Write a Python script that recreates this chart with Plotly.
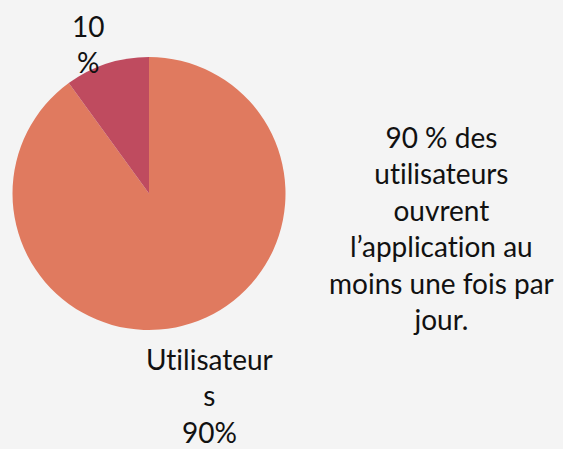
import plotly.graph_objects as go

labels = ["Utilisateurs", "Autres"]
values = [90, 10]
colors = ["#E07A5F", "#BF4B5F"]
note_lines = ["90 % des", "utilisateurs", "ouvrent", "l’application au", "moins une fois par", "jour."]

W, H = 563, 449
FONT = "Lato"
ZWNJ = "\u200c"

def noliga(s):
    # avoid the "ti" / "fi" ligatures of the font
    return s.replace("ti", "t" + ZWNJ + "i").replace("fi", "f" + ZWNJ + "i")

fig = go.Figure(go.Pie(
    labels=labels,
    values=values,
    sort=False,
    direction="clockwise",
    rotation=0,
    marker=dict(colors=colors, line=dict(width=0)),
    textinfo="none",
    hoverinfo="label+percent",
    showlegend=False,
    domain=dict(x=[12 / W, 286 / W], y=[1 - 330 / H, 1 - 57 / H]),
))

total = sum(values)
pct = [round(v / total * 100) for v in values]

def px(x, y):
    return x / W, 1 - y / H

annots = []
ax, ay = px(88, 44)
annots.append(dict(text=f"{pct[1]}<br>%", x=ax, y=ay))
ax, ay = px(209, 395)
annots.append(dict(text=noliga("Utilisateur") + "<br>s<br>" + f"{pct[0]}%", x=ax, y=ay))
ax, ay = px(441, 228)
annots.append(dict(text="<br>".join(noliga(l) for l in note_lines), x=ax, y=ay))

for a in annots:
    a.update(xref="paper", yref="paper", showarrow=False, xanchor="center", yanchor="middle",
             align="center", font=dict(family=FONT, size=28, color="#111111"))

fig.update_layout(
    width=W, height=H,
    margin=dict(l=0, r=0, t=0, b=0),
    paper_bgcolor="#F4F4F4",
    plot_bgcolor="#F4F4F4",
    annotations=annots,
)

fig.write_html("out.html")
